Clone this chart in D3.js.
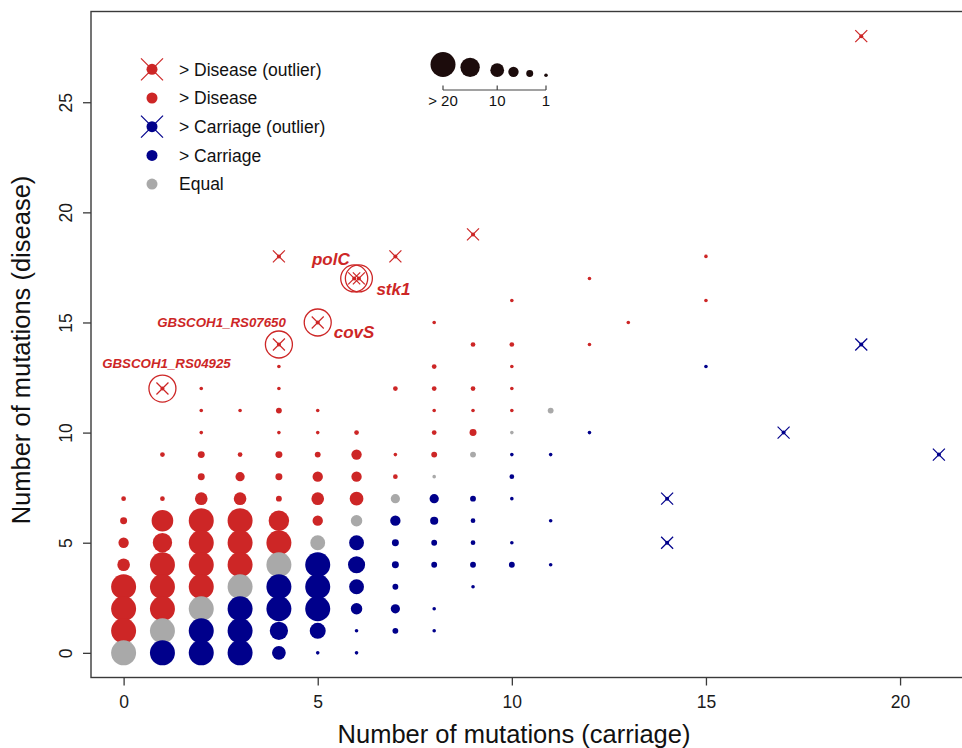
<!DOCTYPE html>
<html><head><meta charset="utf-8">
<script src="https://cdn.jsdelivr.net/npm/d3@7"></script>
<style>
body{margin:0;background:#fff}
svg{display:block;font-family:"Liberation Sans",Arial,Helvetica,sans-serif}
</style>
</head><body>
<svg id="chart" width="962" height="748"></svg>
<script>
// ---------------- DATA ----------------
// [carriage mutations, disease mutations, number of genes]
const diseasePoints = [
  [0,1,20],[0,2,20],[0,3,20],[0,4,9],[0,5,7],[0,6,4],[0,7,2],
  [1,2,20],[1,3,20],[1,4,20],[1,5,15],[1,6,17],[1,7,2],[1,9,2],
  [2,3,20],[2,4,20],[2,5,20],[2,6,20],[2,7,9],[2,8,4],[2,9,4],[2,10,1],[2,11,1],[2,12,1],
  [3,4,20],[3,5,20],[3,6,20],[3,7,9],[3,8,6],[3,9,2],[3,11,1],
  [4,5,20],[4,6,16],[4,7,3],[4,8,4],[4,9,4],[4,10,1],[4,11,3],[4,12,1],[4,13,1],
  [5,6,7],[5,7,9],[5,8,7],[5,9,3],[5,10,1],[5,11,1],
  [6,7,10],[6,8,7],[6,9,7],[6,10,2],
  [7,8,2],[7,9,1],[7,12,2],
  [8,9,3],[8,10,2],[8,11,1],[8,12,2],[8,13,2],[8,15,1],
  [9,10,4],[9,11,1],[9,12,2],[9,14,2],
  [10,11,1],[10,12,1],[10,13,1],[10,14,2],[10,16,1],
  [12,14,1],[12,17,1],[13,15,1],[15,16,1],[15,18,1]
];
const carriagePoints = [
  [1,0,20],
  [2,0,20],[2,1,20],
  [3,0,20],[3,1,20],[3,2,20],
  [4,0,10],[4,1,14],[4,2,20],[4,3,20],
  [5,0,1],[5,1,12],[5,2,20],[5,3,20],[5,4,20],
  [6,0,1],[6,1,1],[6,2,8],[6,3,11],[6,4,13],[6,5,11],
  [7,1,3],[7,2,6],[7,3,3],[7,4,4],[7,5,4],[7,6,7],
  [8,1,1],[8,2,1],[8,4,3],[8,5,3],[8,6,5],[8,7,6],
  [9,3,1],[9,4,3],[9,5,2],[9,6,2],[9,7,3],
  [10,4,3],[10,5,1],[10,7,1],[10,8,2],[10,9,1],
  [11,4,1],[11,6,1],[11,9,1],
  [12,10,1],[15,13,1]
];
const equalPoints = [
  [0,0,20],[1,1,20],[2,2,20],[3,3,20],[4,4,20],[5,5,11],[6,6,8],
  [7,7,6],[8,8,1],[9,9,3],[10,10,1],[11,11,3]
];
// outliers: [carriage, disease]
const diseaseOutliers = [[4,18],[7,18],[9,19],[19,28]];
const carriageOutliers = [[14,5],[14,7],[17,10],[19,14],[21,9]];
// annotated genes (disease outliers): [carriage, disease]
const geneNames = ["GBSCOH1_RS04925","GBSCOH1_RS07650","covS","polC","stk1"];
const geneCarriage = [1,4,5,5.94,6.06];
const geneDisease = [12,14,15,17,17];

const xTicks = [0,5,10,15,20];
const yTicks = [0,5,10,15,20,25];
const legendLabels = ["> Disease (outlier)","> Disease","> Carriage (outlier)","> Carriage","Equal"];
const legendGroups = ["D","D","C","C","E"];
const legendOutlier = [true,false,true,false,false];
const sizeLegendCounts = [20,15,10,7,4,1];
const sizeLegendTicks = [20,10,1];
const sizeLegendTickLabels = ["> 20","10","1"];
const xTitle = "Number of mutations (carriage)";
const yTitle = "Number of mutations (disease)";

// ---------------- STYLE / LAYOUT ----------------
const colors = {D:"#CD2626", C:"#00008B", E:"#A9A9A9"};
const box = {left:91, right:971.5, top:11.5, bottom:677.5};
const labelLayout = {
  "GBSCOH1_RS04925": {dx:4, dy:-21, anchor:"middle", size:13.3},
  "GBSCOH1_RS07650": {dx:7, dy:-18, anchor:"end", size:13.3},
  "covS": {dx:16, dy:15.5, anchor:"start", size:17},
  "polC": {dx:-4.5, dy:-13.4, anchor:"end", size:17},
  "stk1": {dx:17.5, dy:16.6, anchor:"start", size:17}
};

const svg = d3.select("#chart");
const x = d3.scaleLinear().domain([-0.84, 21.84]).range([box.left, box.right]);
const y = d3.scaleLinear().domain([-1.12, 29.12]).range([box.bottom, box.top]);
const r = d3.scaleLinear().domain([1,20]).range([1.8,12.5]).clamp(true);

// ---------------- BUBBLES ----------------
const all = []
  .concat(diseasePoints.map(d => ({cx:d[0], dy:d[1], n:d[2], g:"D"})))
  .concat(carriagePoints.map(d => ({cx:d[0], dy:d[1], n:d[2], g:"C"})))
  .concat(equalPoints.map(d => ({cx:d[0], dy:d[1], n:d[2], g:"E"})));
const order = {D:0, E:1, C:2};
all.sort((a,b) => (b.dy - a.dy) || (order[a.g]-order[b.g]));

svg.append("g").selectAll("circle").data(all).join("circle")
  .attr("cx", d => x(d.cx)).attr("cy", d => y(d.dy)).attr("r", d => r(d.n))
  .attr("fill", d => colors[d.g]);

// ---------------- OUTLIERS ----------------
function drawX(g, px, py, h, color, sw) {
  g.append("line").attr("x1",px-h).attr("y1",py-h).attr("x2",px+h).attr("y2",py+h)
    .attr("stroke",color).attr("stroke-width",sw);
  g.append("line").attr("x1",px-h).attr("y1",py+h).attr("x2",px+h).attr("y2",py-h)
    .attr("stroke",color).attr("stroke-width",sw);
}
const og = svg.append("g");
diseaseOutliers.forEach(d => {
  og.append("circle").attr("cx",x(d[0])).attr("cy",y(d[1])).attr("r",2).attr("fill",colors.D);
  drawX(og, x(d[0]), y(d[1]), 6, colors.D, 1.2);
});
carriageOutliers.forEach(d => {
  og.append("circle").attr("cx",x(d[0])).attr("cy",y(d[1])).attr("r",2).attr("fill",colors.C);
  drawX(og, x(d[0]), y(d[1]), 6, colors.C, 1.2);
});
geneNames.forEach((name,i) => {
  const px = x(geneCarriage[i]), py = y(geneDisease[i]);
  og.append("circle").attr("cx",px).attr("cy",py).attr("r",2).attr("fill",colors.D);
  drawX(og, px, py, 6, colors.D, 1.2);
  og.append("circle").attr("cx",px).attr("cy",py).attr("r",13.5)
    .attr("fill","none").attr("stroke",colors.D).attr("stroke-width",1.3);
  const L = labelLayout[name];
  og.append("text").attr("x", px + L.dx).attr("y", py + L.dy)
    .attr("text-anchor", L.anchor).attr("font-size", L.size)
    .attr("font-weight","bold").attr("font-style","italic")
    .attr("fill", colors.D).text(name);
});

// ---------------- AXES ----------------
svg.append("rect").attr("x",box.left).attr("y",box.top)
  .attr("width",box.right-box.left).attr("height",box.bottom-box.top)
  .attr("fill","none").attr("stroke","#3a3a3a").attr("stroke-width",1.4);

const xAxis = svg.append("g").attr("transform",`translate(0,${box.bottom})`)
  .call(d3.axisBottom(x).tickValues(xTicks).tickSize(8).tickPadding(10).tickFormat(d3.format("d")));
xAxis.select(".domain").remove();
xAxis.selectAll("line").attr("stroke","#3a3a3a").attr("stroke-width",1.3);
xAxis.selectAll("text").attr("font-size",17.5).attr("fill","#1a1a1a")
  .attr("font-family",'"Liberation Sans",Arial,sans-serif');

const yAxis = svg.append("g").attr("transform",`translate(${box.left},0)`)
  .call(d3.axisLeft(y).tickValues(yTicks).tickSize(8).tickFormat(d3.format("d")));
yAxis.select(".domain").remove();
yAxis.selectAll("line").attr("stroke","#3a3a3a").attr("stroke-width",1.3);
yAxis.selectAll("text").attr("font-size",17.5).attr("fill","#1a1a1a")
  .attr("font-family",'"Liberation Sans",Arial,sans-serif')
  .attr("transform","rotate(-90)").attr("x",0).attr("y",-19).attr("dy",0)
  .attr("text-anchor","middle");

svg.append("text").attr("x",514).attr("y",743).attr("text-anchor","middle")
  .attr("font-size",25.5).attr("fill","#111").text(xTitle);
svg.append("text").attr("transform","translate(30,350) rotate(-90)").attr("text-anchor","middle")
  .attr("font-size",25.5).attr("fill","#111").text(yTitle);

// ---------------- LEGEND ----------------
const lg = svg.append("g");
legendLabels.forEach((lab,i) => {
  const cy = 69.3 + i*28.7, cx = 152;
  lg.append("circle").attr("cx",cx).attr("cy",cy).attr("r",5.5).attr("fill",colors[legendGroups[i]]);
  if (legendOutlier[i]) drawX(lg, cx, cy, 11, colors[legendGroups[i]], 1.2);
  lg.append("text").attr("x",179).attr("y",cy+6.3).attr("font-size",17.5).attr("fill","#111").text(lab);
});

// size legend
const sx = d3.scaleLinear().domain([20,1]).range([443,546]);
const sg = svg.append("g");
sg.selectAll("circle").data(sizeLegendCounts).join("circle")
  .attr("cx", d => sx(d)).attr("cy", d => 77 - r(d)).attr("r", d => r(d)).attr("fill","#1c0c0c");
sg.append("line").attr("x1",sx(20)).attr("x2",sx(1)).attr("y1",90).attr("y2",90)
  .attr("stroke","#444").attr("stroke-width",1.2);
sizeLegendTicks.forEach((t,i) => {
  sg.append("line").attr("x1",sx(t)).attr("x2",sx(t)).attr("y1",85.5).attr("y2",90)
    .attr("stroke","#444").attr("stroke-width",1.2);
  sg.append("text").attr("x",sx(t)).attr("y",106).attr("text-anchor","middle")
    .attr("font-size",15).attr("fill","#111").text(sizeLegendTickLabels[i]);
});
</script>
</body></html>
